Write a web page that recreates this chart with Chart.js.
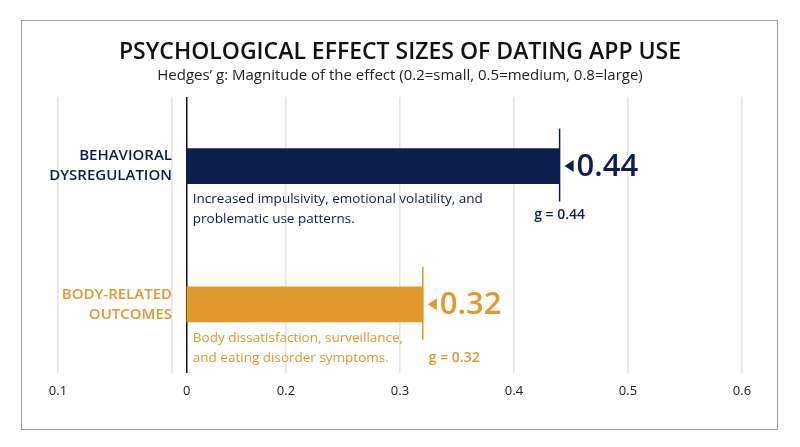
<!DOCTYPE html>
<html>
<head>
<meta charset="utf-8">
<script src="https://cdn.jsdelivr.net/npm/chart.js@4"></script>
<style>
  body{margin:0;background:#fff}
  #frame{position:absolute;left:21px;top:20px;width:757px;height:410px;border:1.5px solid #a0a0a0;box-sizing:border-box}
  canvas{position:absolute;left:0;top:0}
</style>
</head>
<body>
<div id="frame"></div>
<canvas id="myChart" width="800" height="447"></canvas>
<script>
  // data
  let categories=[['BEHAVIORAL','DYSREGULATION'],['BODY-RELATED','OUTCOMES']]
  let effects=[0.44,0.32]
  let captions=[
    ['Increased impulsivity, emotional volatility, and','problematic use patterns.'],
    ['Body dissatisfaction, surveillance,','and eating disorder symptoms.']
  ]
  let colors=['#0b1f4f','#e0982f']
  let baseline=0.113
  let tickValues=[0,0.1,baseline,0.2,0.3,0.4,0.5,0.6]
  let tickLabels=['0.1','','0','0.2','0.3','0.4','0.5','0.6']

  const font='"Open Sans", Lato, sans-serif'

  const overlay={
    id:'overlay',
    afterDatasetsDraw(chart){
      let c=chart.ctx, x=chart.scales.x, y=chart.scales.y
      c.save()
      // title
      c.fillStyle='#111'
      c.textAlign='center'
      c.textBaseline='middle'
      c.font='600 23px '+font
      c.fillText('PSYCHOLOGICAL EFFECT SIZES OF DATING APP USE',400,52)
      c.font='15px '+font
      c.fillStyle='#222'
      c.fillText('Hedges\u2019 g: Magnitude of the effect (0.2=small, 0.5=medium, 0.8=large)',400,76)

      let meta=chart.getDatasetMeta(0)
      meta.data.forEach((bar,i)=>{
        let col=colors[i]
        let xs=x.getPixelForValue(baseline)
        let xe=x.getPixelForValue(effects[i])
        let yc=bar.y, h=bar.height
        // category label
        c.fillStyle=col
        c.textAlign='right'
        c.font='600 15px '+font
        c.fillText(categories[i][0],172,yc-10)
        c.fillText(categories[i][1],172,yc+10)
        // end marker line
        c.strokeStyle=col
        c.lineWidth=1.5
        c.beginPath()
        c.moveTo(xe,yc-h/2-20)
        c.lineTo(xe,yc+h/2+18)
        c.stroke()
        // triangle + big value
        c.beginPath()
        c.moveTo(xe+5,yc)
        c.lineTo(xe+14,yc-6)
        c.lineTo(xe+14,yc+6)
        c.closePath()
        c.fill()
        c.textAlign='left'
        c.font='600 31px '+font
        c.fillText(effects[i].toFixed(2),xe+17,yc+1)
        // caption
        c.font='13.5px '+font
        captions[i].forEach((t,k)=>c.fillText(t,xs+6,yc+h/2+16+k*20))
        // g label
        c.font='600 14px '+font
        if(i==0){
          c.textAlign='center'
          c.fillText('g = '+effects[i].toFixed(2),xe,yc+h/2+31)
        }else{
          c.fillText('g = '+effects[i].toFixed(2),xe+6,yc+h/2+36)
        }
      })
      c.restore()
    }
  }

  let ctx=document.getElementById('myChart').getContext('2d')
  let myChart=new Chart(ctx,{
    type:'bar',
    data:{
      labels:categories.map(l=>l.join(' ')),
      datasets:[{
        data:effects.map(v=>[baseline,v]),
        backgroundColor:colors,
        borderWidth:0,
        barThickness:35
      }]
    },
    options:{
      indexAxis:'y',
      responsive:false,
      animation:false,
      layout:{padding:{left:58,right:58,top:97,bottom:38}},
      plugins:{legend:{display:false},tooltip:{enabled:false}},
      scales:{
        x:{
          min:0,max:0.6,
          afterBuildTicks(s){s.ticks=tickValues.map(v=>({value:v}))},
          ticks:{
            autoSkip:false,
            color:'#222',
            font:{family:font,size:13},
            padding:10,
            callback:(v,i)=>tickLabels[i]
          },
          grid:{
            color:ctx=>ctx.tick&&ctx.tick.value==baseline?'#111':'#e4e4e4',
            lineWidth:ctx=>ctx.tick&&ctx.tick.value==baseline?1.5:1.5,
            drawTicks:false
          },
          border:{display:false}
        },
        y:{
          display:false
        }
      }
    },
    plugins:[overlay]
  })
</script>
</body>
</html>
